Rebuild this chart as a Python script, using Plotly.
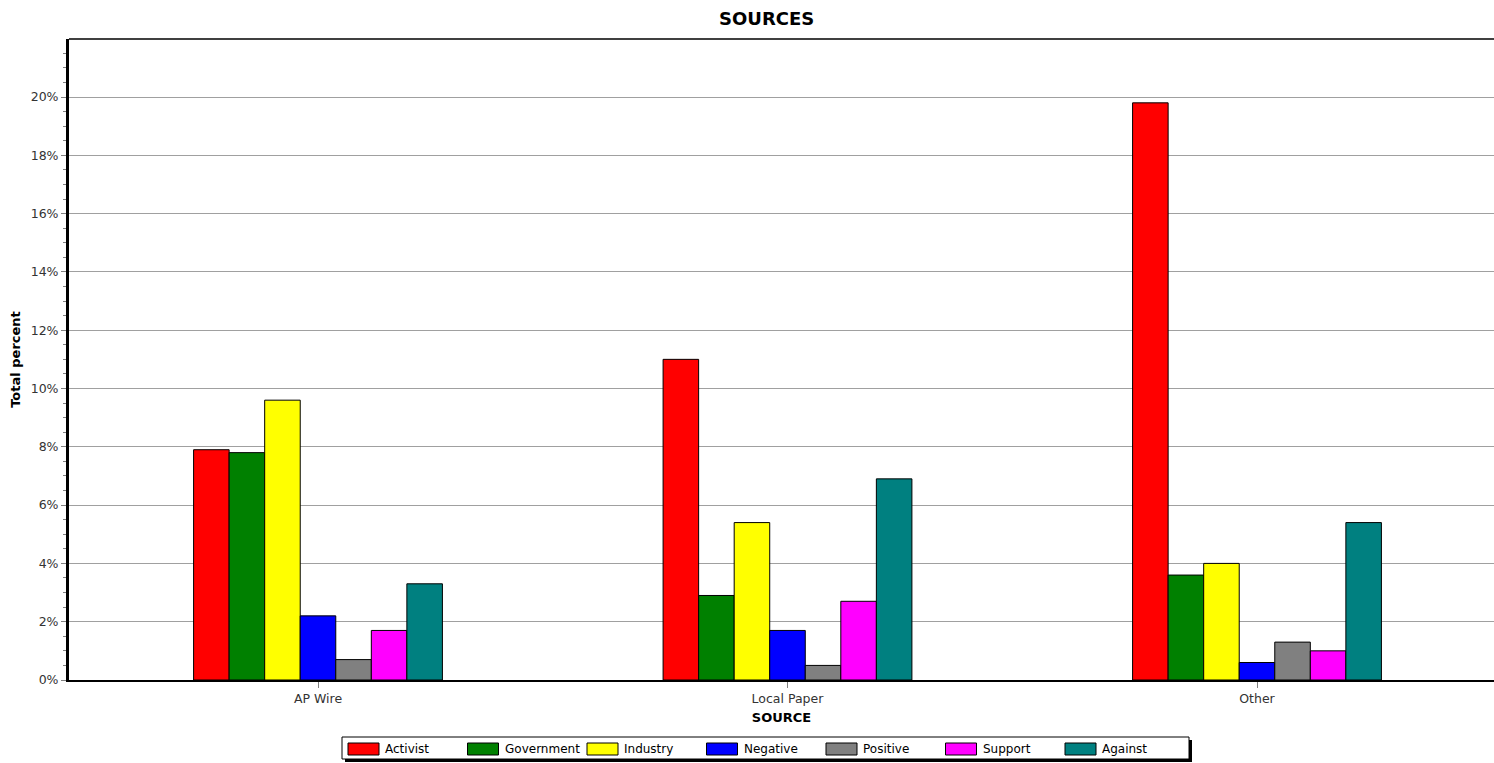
import plotly.graph_objects as go

categories = ["AP Wire", "Local Paper", "Other"]
series_names = ["Activist", "Government", "Industry", "Negative", "Positive", "Support", "Against"]
activist = [7.9, 11.0, 19.8]
government = [7.8, 2.9, 3.6]
industry = [9.6, 5.4, 4.0]
negative = [2.2, 1.7, 0.6]
positive = [0.7, 0.5, 1.3]
support = [1.7, 2.7, 1.0]
against = [3.3, 6.9, 5.4]
colors = ["#FF0000", "#008000", "#FFFF00", "#0000FF", "#808080", "#FF00FF", "#008080"]
y_ticks = [0, 2, 4, 6, 8, 10, 12, 14, 16, 18, 20]
y_tick_labels = [f"{v}%" for v in y_ticks]

series_values = [activist, government, industry, negative, positive, support, against]

# the page body margin is removed (post_script), so the figure fills the window
W, H = 1494, 763
# plot area in window pixels
PL, PR, PT, PB = 69, 1494, 39, 680
ML, MR, MT, MB = PL, W - PR, PT, H - PB
PW, PH = PR - PL, PB - PT

def px_x(p):
    return (p - PL) / PW

def px_y(p):
    return (PB - p) / PH

FONT = "DejaVu Sans, Verdana, Tahoma, sans-serif"

fig = go.Figure()
for name, vals, col in zip(series_names, series_values, colors):
    fig.add_trace(go.Bar(
        name=name, x=list(range(len(categories))), y=vals,
        marker=dict(color=col, line=dict(color="black", width=1)),
        showlegend=False,
    ))

shapes = [
    dict(type="line", xref="paper", yref="paper", x0=0, x1=1, y0=1, y1=1,
         line=dict(color="#404040", width=2)),
]
annotations = [
    dict(text="<b>SOURCES</b>", xref="paper", yref="paper", x=px_x(766), y=px_y(18),
         xanchor="center", yanchor="middle", showarrow=False,
         font=dict(family=FONT, size=18, color="black")),
]

# legend box (drawn from the series lists)
LX0, LX1, LY0, LY1 = 342, 1189, 737, 759
shapes.append(dict(type="rect", xref="paper", yref="paper",
                   x0=px_x(LX0 + 3), x1=px_x(LX1 + 3), y0=px_y(LY1 + 3), y1=px_y(LY0 + 3),
                   fillcolor="black", line=dict(width=0), layer="above"))
shapes.append(dict(type="rect", xref="paper", yref="paper",
                   x0=px_x(LX0), x1=px_x(LX1), y0=px_y(LY1), y1=px_y(LY0),
                   fillcolor="white", line=dict(color="black", width=1), layer="above"))
for i, (name, col) in enumerate(zip(series_names, colors)):
    sx = 348 + i * 119.5
    shapes.append(dict(type="rect", xref="paper", yref="paper",
                       x0=px_x(sx), x1=px_x(sx + 31), y0=px_y(755), y1=px_y(743),
                       fillcolor=col, line=dict(color="black", width=1), layer="above"))
    annotations.append(dict(text=name, xref="paper", yref="paper", x=px_x(sx + 35), y=px_y(749),
                            xanchor="left", yanchor="middle", showarrow=False,
                            font=dict(family=FONT, size=12, color="black")))

fig.update_layout(
    width=W, height=H,
    margin=dict(l=ML, r=MR, t=MT, b=MB, autoexpand=False),
    paper_bgcolor="white", plot_bgcolor="white",
    barmode="group", bargap=0.47, bargroupgap=0,
    showlegend=False,
    font=dict(family=FONT, size=12.5, color="#222222"),
    xaxis=dict(
        tickmode="array", tickvals=list(range(len(categories))), ticktext=categories,
        range=[(PL - 318) / 469.5, (PR - 318) / 469.5],
        showgrid=False, zeroline=False,
        showline=True, linecolor="black", linewidth=2,
        ticks="outside", ticklen=6, tickcolor="#808080", tickwidth=1,
        tickfont=dict(family=FONT, size=12.5, color="#333333"),
        title=dict(text="<b>SOURCE</b>", standoff=8,
                   font=dict(family=FONT, size=13, color="black")),
        fixedrange=True,
    ),
    yaxis=dict(
        range=[0, (PB - PT) / 29.15],
        tickmode="array", tickvals=y_ticks, ticktext=y_tick_labels,
        showgrid=True, gridcolor="#A0A0A0", gridwidth=1,
        zeroline=False,
        showline=True, linecolor="black", linewidth=3,
        ticks="outside", ticklen=5, tickcolor="#808080",
        minor=dict(dtick=0.5, tick0=0, ticks="outside", ticklen=3, tickcolor="#808080", showgrid=False),
        tickfont=dict(family=FONT, size=12.5, color="#333333"),
        title=dict(text="<b>Total percent</b>", standoff=8,
                   font=dict(family=FONT, size=13, color="black")),
        fixedrange=True,
    ),
    shapes=shapes,
    annotations=annotations,
)

fig.write_html(
    "out.html",
    config={"displayModeBar": False, "staticPlot": True},
    post_script="document.body.style.margin='0';document.body.style.overflow='hidden';",
)
